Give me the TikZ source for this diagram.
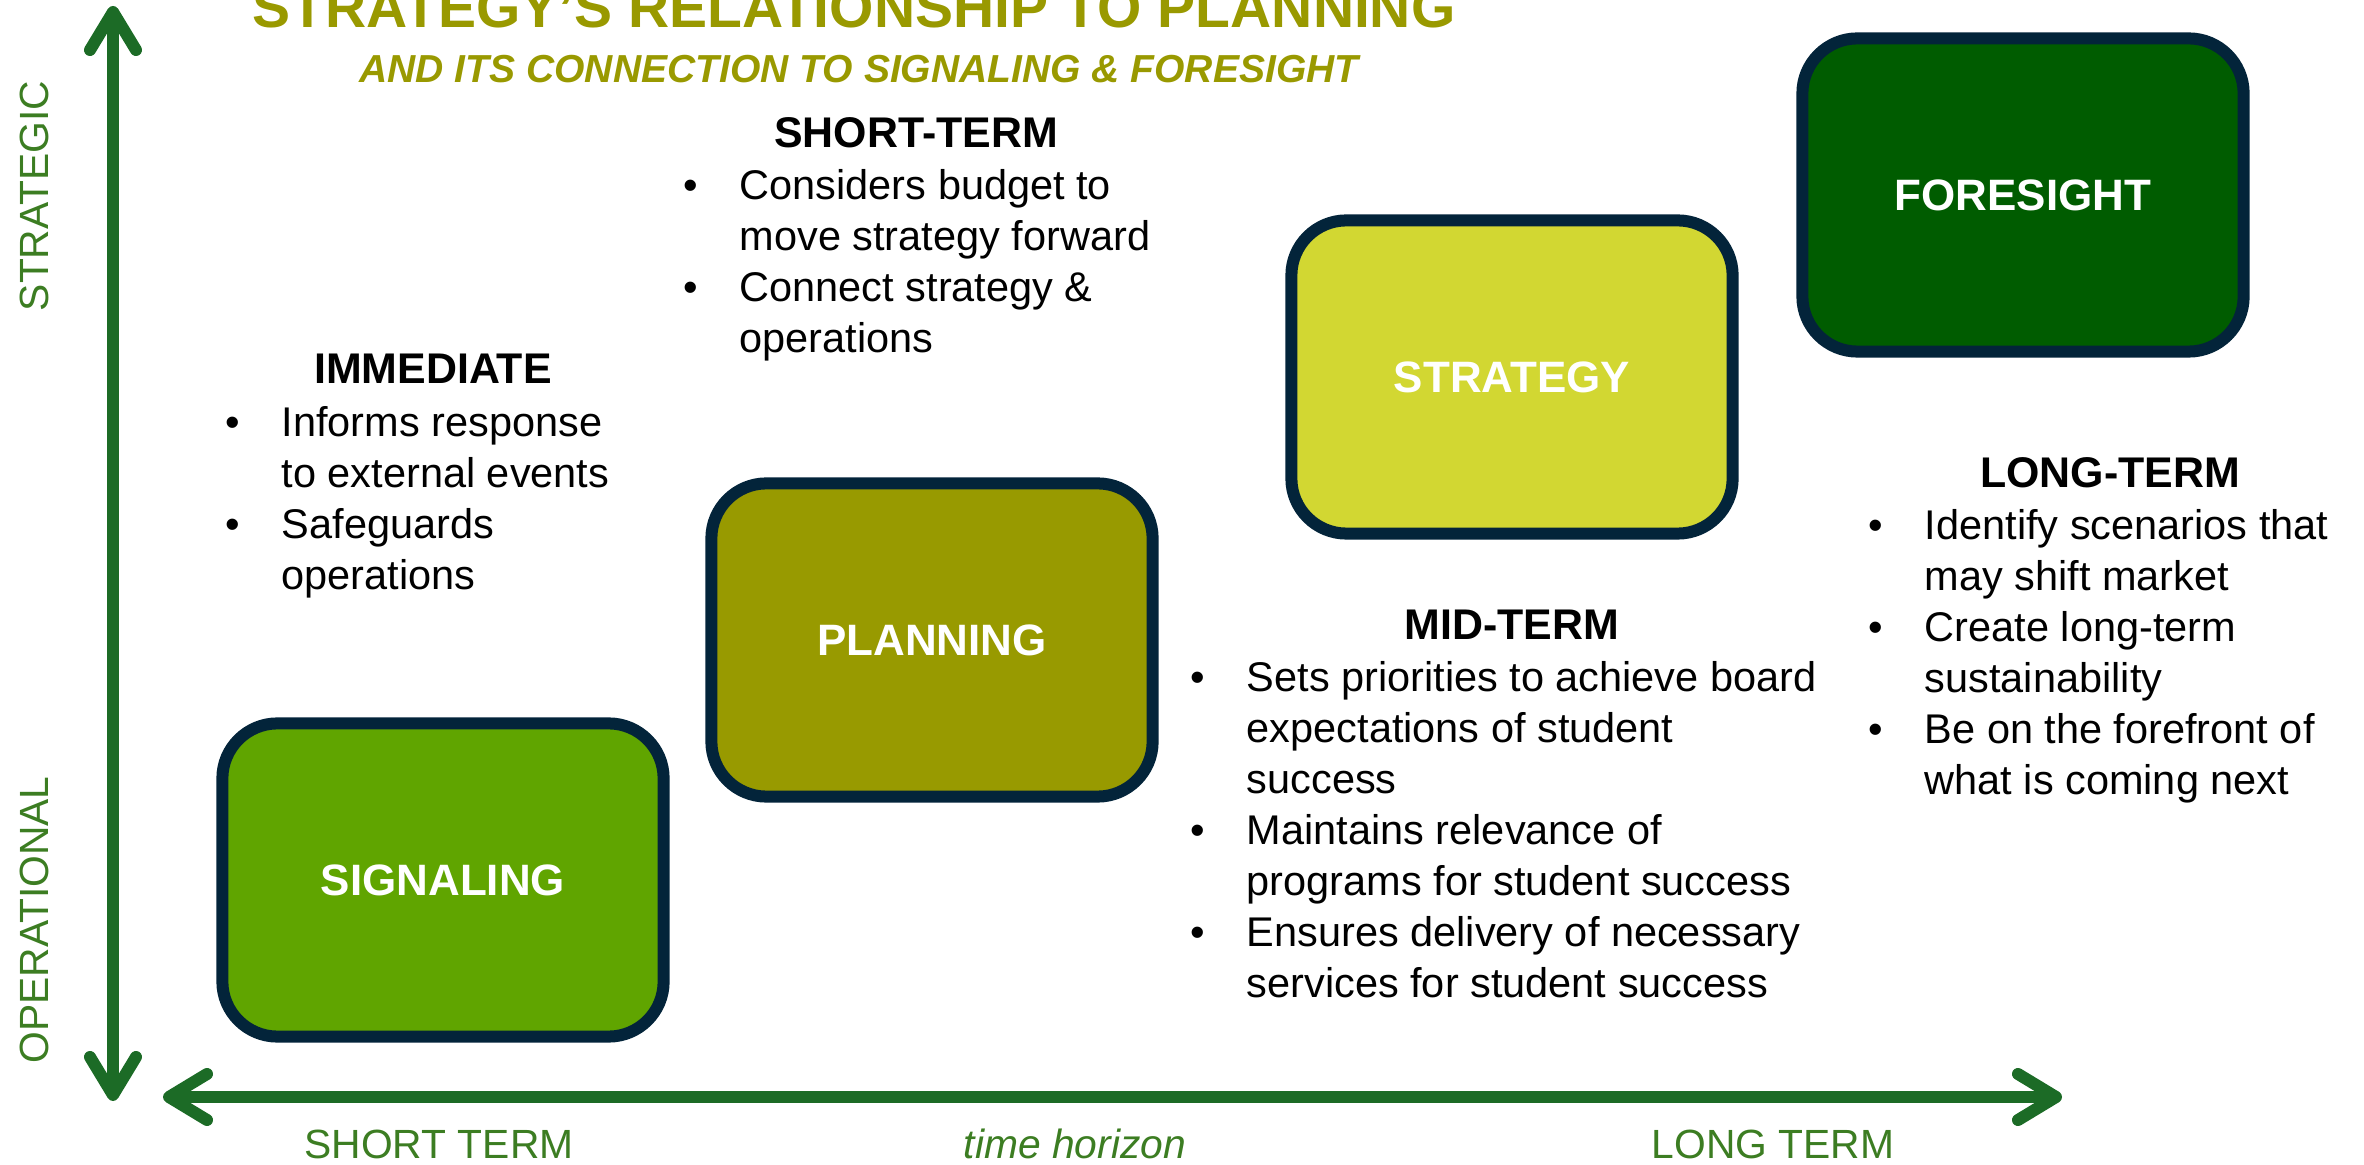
\documentclass[tikz,border=0pt]{standalone}
\usepackage{fontspec}
\setmainfont{Liberation Sans}
\usetikzlibrary{arrows.meta}

\definecolor{titleolive}{HTML}{999900}
\definecolor{planolive}{HTML}{989A00}
\definecolor{stratlime}{HTML}{D2D732}
\definecolor{signalgreen}{HTML}{60A500}
\definecolor{foregreen}{HTML}{005C00}
\definecolor{boxnavy}{HTML}{03243A}
\definecolor{axisgreen}{HTML}{1C6B26}
\definecolor{axistext}{HTML}{3C7D22}

% bullet list: bullet column + text column, baseline on first row
\newcommand{\blist}[1]{\begin{tabular}[t]{@{}p{0.56cm}@{}l@{}}#1\end{tabular}}

\tikzset{
  stage/.style={draw=boxnavy, line width=0.12cm, rounded corners=0.55cm,
    minimum width=4.41cm, minimum height=3.13cm, text=white,
    font=\fontsize{12.5}{15}\selectfont\bfseries},
  head/.style={anchor=base, inner sep=0pt, font=\fontsize{12.2}{15}\selectfont\bfseries},
  bullets/.style={anchor=base west, inner sep=0pt, font=\fontsize{11.8}{14.5}\selectfont},
  axis/.style={draw=axisgreen, line width=0.12cm,
    {Straight Barb[length=0.38cm, width=0.46cm, line cap=round, line join=round]}-{Straight Barb[length=0.38cm, width=0.46cm, line cap=round, line join=round]}},
  axislabel/.style={anchor=base, inner sep=0pt, text=axistext, font=\fontsize{11.6}{14}\selectfont},
}

\begin{document}
\begin{tikzpicture}[x=0.01cm, y=-0.01cm]
\useasboundingbox (0,0) rectangle (2364,1165);

% title
\node[anchor=base, inner sep=0pt, text=titleolive, font=\fontsize{16.2}{18}\selectfont\bfseries]
  (title) at (854,28) {STRATEGY’S RELATIONSHIP TO PLANNING};
\node[anchor=base, inner sep=0pt, text=titleolive, font=\fontsize{11.1}{13}\selectfont\bfseries\itshape]
  (subtitle) at (859,83) {AND ITS CONNECTION TO SIGNALING \& FORESIGHT};

% axes
\coordinate (vtop) at (113,6);
\coordinate (vbot) at (113,1101);
\coordinate (hleft) at (163,1097);
\coordinate (hright) at (2062,1097);
\draw[axis] (vbot) -- (vtop);
\draw[axis] (hleft) -- (hright);

\node[axislabel, rotate=90] (strategic) at (48,196) {STRATEGIC};
\node[axislabel, rotate=90] (operational) at (48,920) {OPERATIONAL};
\node[axislabel] (shortlbl) at (439,1158) {SHORT TERM};
\node[axislabel, font=\fontsize{11.6}{14}\selectfont\itshape] (horizon) at (1075,1158) {time horizon};
\node[axislabel] (longlbl) at (1773,1158) {LONG TERM};

% the four stages
\node[stage, fill=signalgreen] (signal) at (443,880) {SIGNALING};
\node[stage, fill=planolive] (plan) at (932,640) {PLANNING};
\node[stage, fill=stratlime] (strat) at (1512,377) {STRATEGY};
\node[stage, fill=foregreen] (fore) at (2023,195) {FORESIGHT};

% immediate
\node[head] (hImm) at (433,384) {IMMEDIATE};
\node[bullets] (lImm) at (225,437) {\blist{%
  \textbullet & Informs response\\
              & to external events\\
  \textbullet & Safeguards\\
              & operations}};

% short-term
\node[head] (hShort) at (916,148) {SHORT-TERM};
\node[bullets] (lShort) at (683,200) {\blist{%
  \textbullet & Considers budget to\\
              & move strategy forward\\
  \textbullet & Connect strategy \&\\
              & operations}};

% mid-term
\node[head] (hMid) at (1512,640) {MID-TERM};
\node[bullets] (lMid) at (1190,692) {\blist{%
  \textbullet & Sets priorities to achieve board\\
              & expectations of student\\
              & success\\
  \textbullet & Maintains relevance of\\
              & programs for student success\\
  \textbullet & Ensures delivery of necessary\\
              & services for student success}};

% long-term
\node[head] (hLong) at (2110,488) {LONG-TERM};
\node[bullets] (lLong) at (1868,540) {\blist{%
  \textbullet & Identify scenarios that\\
              & may shift market\\
  \textbullet & Create long-term\\
              & sustainability\\
  \textbullet & Be on the forefront of\\
              & what is coming next}};
\end{tikzpicture}
\end{document}
